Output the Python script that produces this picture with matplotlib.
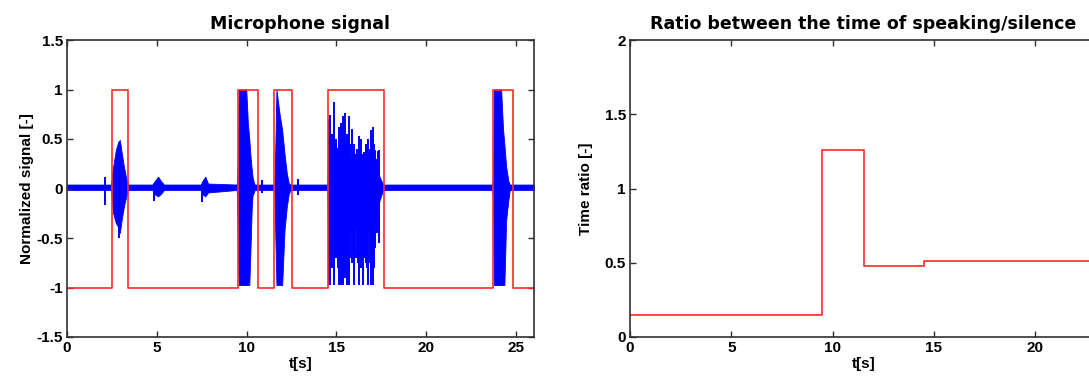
import matplotlib
matplotlib.use("Agg")
import matplotlib.pyplot as plt

# ---------------- data ----------------
# speech-detection step signal (left chart): edge times [s] and levels
vad_t = [0, 2.52, 2.52, 3.41, 3.41, 9.52, 9.52, 10.65, 10.65, 11.54, 11.54,
         12.54, 12.54, 14.54, 14.54, 17.63, 17.63, 23.70, 23.70, 24.83, 24.83, 26]
vad_v = [-1, -1, 1, 1, -1, -1, 1, 1, -1, -1, 1,
         1, -1, -1, 1, 1, -1, -1, 1, 1, -1, -1]

# microphone signal envelope
env_t  = [0.0, 2.45, 2.52, 2.57, 2.72, 2.85, 2.94, 3.04, 3.17, 3.31, 3.42,
          4.75, 4.90, 5.07, 5.25, 5.40, 7.45, 7.55, 7.70, 7.85, 9.45,
          9.52, 9.56, 9.98, 10.07, 10.15, 10.22, 10.28, 10.33, 10.40, 10.45,
          11.55, 11.60, 11.66, 11.83, 11.98, 12.11, 12.24, 12.35, 12.45,
          14.50, 14.54, 14.90, 15.20, 15.50, 16.00, 16.50, 17.00, 17.40, 17.60,
          23.65, 23.72, 23.76, 24.17, 24.28, 24.35, 24.45, 24.57, 24.65, 26.0]
env_hi = [0.04, 0.04, 0.15, 0.22, 0.39, 0.47, 0.49, 0.37, 0.22, 0.09, 0.04,
          0.04, 0.08, 0.12, 0.07, 0.04, 0.04, 0.08, 0.12, 0.05, 0.04,
          0.32, 1.0, 1.0, 0.66, 0.50, 0.32, 0.20, 0.12, 0.06, 0.04,
          0.04, 0.45, 1.0, 0.76, 0.59, 0.35, 0.15, 0.05, 0.04,
          0.04, 0.50, 0.45, 0.35, 0.35, 0.30, 0.28, 0.32, 0.12, 0.04,
          0.04, 0.10, 1.0, 1.0, 0.59, 0.45, 0.22, 0.08, 0.04, 0.04]
env_lo = [-0.015, -0.015, -0.15, -0.25, -0.35, -0.39, -0.45, -0.32, -0.18, -0.07, -0.015,
          -0.015, -0.06, -0.08, -0.05, -0.015, -0.015, -0.06, -0.08, -0.04, -0.015,
          -0.55, -0.975, -0.975, -0.975, -0.975, -0.59, -0.22, -0.07, -0.04, -0.015,
          -0.015, -0.50, -0.975, -0.975, -0.975, -0.42, -0.18, -0.05, -0.015,
          -0.015, -0.55, -0.60, -0.45, -0.50, -0.40, -0.40, -0.45, -0.12, -0.015,
          -0.015, -0.08, -0.975, -0.975, -0.975, -0.975, -0.32, -0.12, -0.015, -0.015]

# individual spikes of the microphone signal: time, top, bottom
spike_t  = [2.11, 2.90, 4.85, 7.52, 10.85, 12.85,
            14.58, 14.63, 14.67, 14.72, 14.78, 14.84, 14.89, 14.95, 15.00, 15.06,
            15.12, 15.19, 15.26, 15.30, 15.35, 15.42, 15.48, 15.54, 15.60, 15.66,
            15.72, 15.78, 15.85, 15.92, 16.00, 16.06, 16.12, 16.18, 16.24, 16.30,
            16.37, 16.42, 16.47, 16.52, 16.56, 16.62, 16.67, 16.72, 16.78, 16.85,
            16.93, 16.98, 17.02, 17.06, 17.10, 17.17, 17.24, 17.30, 17.35, 17.39]
spike_hi = [0.12, 0.45, 0.05, 0.05, 0.09, 0.10,
            0.70, 0.60, 0.74, 0.50, 0.55, 0.65, 0.87, 0.45, 0.50, 0.40,
            0.62, 0.45, 0.66, 0.55, 0.73, 0.50, 0.76, 0.45, 0.55, 0.50,
            0.73, 0.45, 0.60, 0.35, 0.45, 0.35, 0.40, 0.35, 0.53, 0.40,
            0.50, 0.35, 0.35, 0.30, 0.37, 0.35, 0.45, 0.40, 0.50, 0.40,
            0.59, 0.45, 0.62, 0.50, 0.45, 0.39, 0.30, 0.38, 0.39, 0.18]
spike_lo = [-0.17, -0.50, -0.13, -0.14, -0.05, -0.07,
            -0.97, -0.85, -0.97, -0.75, -0.80, -0.90, -0.97, -0.70, -0.70, -0.80,
            -0.97, -0.75, -0.97, -0.85, -0.97, -0.80, -0.90, -0.70, -0.97, -0.80,
            -0.97, -0.70, -0.75, -0.65, -0.97, -0.70, -0.70, -0.75, -0.97, -0.70,
            -0.80, -0.70, -0.97, -0.65, -0.70, -0.65, -0.75, -0.80, -0.97, -0.75,
            -0.97, -0.80, -0.97, -0.70, -0.80, -0.60, -0.45, -0.45, -0.52, -0.55]

# ratio of speaking / silence time (right chart)
ratio_t = [0, 9.5, 9.5, 11.55, 11.55, 14.54, 14.54, 26]
ratio_v = [0.148, 0.148, 1.26, 1.26, 0.48, 0.48, 0.513, 0.513]

left_xticks = [0, 5, 10, 15, 20, 25]
left_yticks = [-1.5, -1, -0.5, 0, 0.5, 1, 1.5]
left_yticklabels = ["-1.5", "-1", "-0.5", "0", "0.5", "1", "1.5"]
right_xticks = [0, 5, 10, 15, 20]
right_yticks = [0, 0.5, 1, 1.5, 2]
right_yticklabels = ["0", "0.5", "1", "1.5", "2"]

# ---------------- figure ----------------
W, H = 1089, 383
fig = plt.figure(figsize=(W / 100, H / 100), dpi=100)
fig.patch.set_facecolor("white")

lab_font = ["Liberation Sans Narrow", "Liberation Sans", "DejaVu Sans"]
title_font = ["DejaVu Sans"]

def px_axes(x0, x1, y0, y1):
    return fig.add_axes([x0 / W, 1 - y1 / H, (x1 - x0) / W, (y1 - y0) / H])

def style(ax):
    for s in ax.spines.values():
        s.set_color("#303030")
        s.set_linewidth(1.2)
    ax.tick_params(direction="in", top=True, right=True, length=4, width=1,
                   color="#303030", pad=3)
    for lbl in ax.get_xticklabels() + ax.get_yticklabels():
        lbl.set_fontfamily(lab_font)
        lbl.set_fontweight("bold")
        lbl.set_fontsize(11)

# left axes
ax1 = px_axes(67, 534, 40, 337)
ax1.fill_between(env_t, env_lo, env_hi, color="#0000ff", linewidth=0.6,
                 edgecolor="#0000ff")
ax1.vlines(spike_t, spike_lo, spike_hi, color="#0000ff", linewidth=1.4)
ax1.plot(vad_t, vad_v, color="#ff2a2a", linewidth=1.2)
ax1.set_xlim(0, 26)
ax1.set_ylim(-1.5, 1.5)
ax1.set_xticks(left_xticks)
ax1.set_yticks(left_yticks)
ax1.set_yticklabels(left_yticklabels)
style(ax1)
ax1.set_title("Microphone signal", fontfamily=title_font, fontweight="heavy",
              fontsize=12.5, pad=8)
ax1.set_xlabel("t[s]", fontfamily=lab_font, fontweight="bold", fontsize=11,
               labelpad=1)
ax1.set_ylabel("Normalized signal [-]", fontfamily=lab_font, fontweight="bold",
               fontsize=11, labelpad=2)

# right axes (extends past the figure edge, as in the reference)
ax2 = px_axes(630, 1097, 40, 337)
ax2.plot(ratio_t, ratio_v, color="#ff2a2a", linewidth=1.2)
ax2.set_xlim(0, 23.06)
ax2.set_ylim(0, 2)
ax2.set_xticks(right_xticks)
ax2.set_yticks(right_yticks)
ax2.set_yticklabels(right_yticklabels)
style(ax2)
ax2.set_title("Ratio between the time of speaking/silence", fontfamily=title_font,
              fontweight="heavy", fontsize=12.5, pad=8)
ax2.set_xlabel("t[s]", fontfamily=lab_font, fontweight="bold", fontsize=11,
               labelpad=1)
ax2.set_ylabel("Time ratio [-]", fontfamily=lab_font, fontweight="bold",
               fontsize=11, labelpad=8)

fig.savefig("out.png", dpi=100, facecolor="white")
